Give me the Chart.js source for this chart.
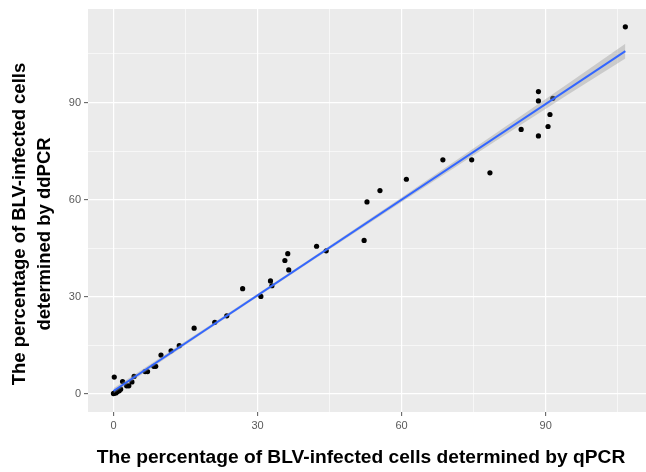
<!DOCTYPE html>
<html><head><meta charset="utf-8">
<script src="https://cdn.jsdelivr.net/npm/chart.js@4/dist/chart.umd.min.js"></script>
<style>html,body{margin:0;padding:0;background:#fff;}#wrap{width:646px;height:472px;position:relative;}</style>
</head><body><div id="wrap"><canvas id="c" width="646" height="472"></canvas></div>
<script>
// Scatter values (x = qPCR %, y = ddPCR %)
const qpcr  = [0.0, 0.1, 0.3, 0.5, 0.67, 0.9, 1.2, 1.5, 0.17, 1.9, 2.75, 3.2, 3.85, 4.3, 6.6, 7.1, 8.4, 8.8, 9.9, 12.0, 13.7, 16.8, 21.1, 23.6, 26.9, 30.7, 32.7, 33.0, 35.7, 36.3, 36.5, 42.3, 44.3, 52.2, 52.8, 55.5, 61.0, 68.6, 74.6, 78.4, 84.9, 88.5, 88.5, 88.5, 90.5, 90.9, 91.5, 106.6];
const ddpcr = [0.1, 0.2, 0.4, 0.3, 0.6, 0.8, 1.0, 1.45, 5.2, 3.8, 2.5, 2.5, 3.7, 5.4, 6.9, 6.9, 8.5, 8.5, 12.0, 13.3, 14.9, 20.3, 22.1, 24.1, 32.5, 30.1, 34.9, 33.4, 41.2, 43.3, 38.3, 45.6, 44.2, 47.4, 59.3, 62.8, 66.3, 72.3, 72.3, 68.3, 81.7, 93.4, 90.5, 79.7, 82.6, 86.3, 91.3, 113.4];
// Fitted line end points and confidence band
const fitX = [0, 106.6];
const fitY = [0.9, 105.9];
const bandX    = [0, 20, 40, 60, 80, 95, 106.6];
const bandLow  = [0.1, 20.1, 39.85, 59.3, 78.5, 92.8, 103.6];
const bandHigh = [1.7, 21.1, 40.75, 60.7, 80.9, 96.2, 108.2];
const majorTicks = [0, 30, 60, 90];
const minorTicks = [15, 45, 75, 105];
const xTitle = "The percentage of BLV-infected cells determined by qPCR";
const yTitle = ["The percentage of BLV-infected cells", "determined by ddPCR"];

const FONT = "'Liberation Sans', Arial, sans-serif";
const pts = (xs, ys) => xs.map((x, i) => ({x, y: ys[i]}));
const allTicks = majorTicks.concat(minorTicks).sort((a, b) => a - b);
const isMajor = v => majorTicks.includes(v);

const panelBg = {
  id: 'panelBg',
  beforeDraw(chart) {
    const {ctx, chartArea: a} = chart;
    ctx.save();
    ctx.fillStyle = '#EBEBEB';
    ctx.fillRect(a.left, a.top, a.right - a.left, a.bottom - a.top);
    ctx.restore();
  }
};
const titles = {
  id: 'titles',
  afterDraw(chart) {
    const ctx = chart.ctx;
    ctx.save();
    ctx.fillStyle = '#000';
    ctx.textAlign = 'center';
    ctx.textBaseline = 'middle';
    ctx.font = 'bold 19.2px ' + FONT;
    ctx.fillText(xTitle, 361, 458);
    ctx.font = 'bold 18.5px ' + FONT;
    ctx.save();
    ctx.translate(20, 224);
    ctx.rotate(-Math.PI / 2);
    ctx.fillText(yTitle[0], 0, 0);
    ctx.restore();
    ctx.save();
    ctx.translate(45, 234);
    ctx.rotate(-Math.PI / 2);
    ctx.fillText(yTitle[1], 0, 0);
    ctx.restore();
    ctx.restore();
  }
};

function axis(min, max, w, h) {
  return {
    type: 'linear', min, max,
    afterBuildTicks(s) { s.ticks = allTicks.map(v => ({value: v})); },
    afterFit(s) {
      if (w) s.width = w;
      if (h) s.height = h;
      s.paddingLeft = 0; s.paddingRight = 0; s.paddingTop = 0; s.paddingBottom = 0;
    },
    border: {display: false},
    grid: {
      color: '#FFFFFF',
      lineWidth: c => (c.tick && isMajor(c.tick.value)) ? 1.2 : 0.6,
      tickColor: c => (c.tick && isMajor(c.tick.value)) ? '#666666' : 'rgba(0,0,0,0)',
      tickLength: 4, tickWidth: 1.1
    },
    ticks: {
      autoSkip: false, maxRotation: 0, padding: 3,
      color: '#5A5A5A', font: {family: FONT, size: 11},
      callback: v => isMajor(v) ? String(v) : ''
    }
  };
}

new Chart(document.getElementById('c'), {
  type: 'scatter',
  data: {
    datasets: [
      {data: pts(fitX, fitY), showLine: true, borderColor: '#3366FF', borderWidth: 2, pointRadius: 0, fill: false},
      {data: pts(bandX, bandHigh), showLine: true, borderWidth: 0, borderColor: 'rgba(0,0,0,0)', pointRadius: 0, fill: '+1', backgroundColor: 'rgba(153,153,153,0.4)'},
      {data: pts(bandX, bandLow), showLine: true, borderWidth: 0, borderColor: 'rgba(0,0,0,0)', pointRadius: 0, fill: false},
      {data: pts(qpcr, ddpcr), pointRadius: 2.6, backgroundColor: '#000', borderWidth: 0}
    ]
  },
  options: {
    responsive: false, animation: false, devicePixelRatio: 1,
    layout: {autoPadding: false, padding: {left: 0, top: 9, right: 0, bottom: 0}},
    plugins: {legend: {display: false}, tooltip: {enabled: false}},
    scales: {
      x: axis(-5.3, 110.9, null, 60),
      y: axis(-5.6, 118.9, 88, null)
    }
  },
  plugins: [panelBg, titles]
});
</script></body></html>
